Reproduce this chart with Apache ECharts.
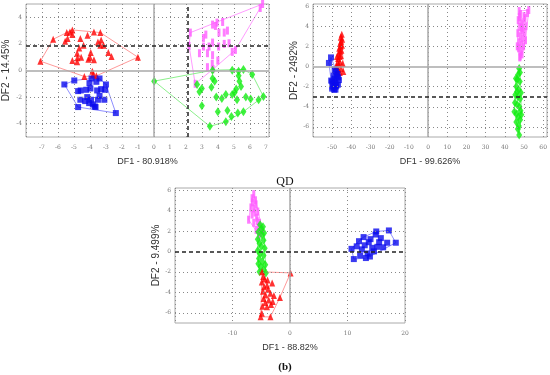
<!DOCTYPE html>
<html><head><meta charset="utf-8">
<script src="https://cdn.jsdelivr.net/npm/echarts@6/dist/echarts.min.js"></script>
<style>html,body{margin:0;padding:0;background:#fff}#c{width:550px;height:375px}</style>
</head><body><div id="c"></div>
<script>
// ---------- Plot 1 (top-left) ----------
const p1Red = [[-7.1,0.7],[-6.3,2.35],[-5.55,2.2],[-5.45,2.85],[-5.25,2.9],[-5.1,3.05],[-5.1,2.7],[-5.4,2.4],[-4.6,2.4],[-4.67,1.7],[-4.4,1.9],[-4.15,2.65],[-3.75,2.9],[-3.35,2.85],[-3.5,2.15],[-3.35,1.9],[-3.15,1.9],[-3.3,2.3],[-2.85,1.35],[-2.65,1.05],[-1.0,1.0],[-5.1,0.75],[-4.8,0.65],[-4.78,0.95],[-4.55,1.0],[-4.1,0.85],[-4.0,1.0],[-3.75,0.8],[-4.35,-0.45],[-3.85,-0.05],[-3.8,-0.3],[-3.6,-0.4],[-4.8,1.3],[-3.95,1.35]];
const p1Blue = [[-5.6,-1.05],[-4.98,-0.75],[-4.74,-1.55],[-4.58,-1.5],[-4.74,-2.75],[-4.6,-2.2],[-4.23,-1.45],[-4.17,-2.0],[-4.03,-0.95],[-3.97,-1.35],[-3.93,-2.2],[-3.82,-2.55],[-3.7,-2.7],[-3.9,-0.6],[-3.6,-0.85],[-3.55,-1.5],[-3.4,-1.9],[-3.5,-2.2],[-3.4,-0.6],[-3.1,-2.2],[-3.0,-1.05],[-3.05,-1.45],[-2.38,-3.2],[-4.3,-2.3],[-4.05,-2.45],[-3.65,-2.75],[-3.3,-1.4]];
const p1Green = [[0.02,-0.8],[3.67,0.02],[4.9,0.02],[5.3,-0.05],[5.6,0.08],[6.15,-0.3],[6.85,-1.95],[6.55,-2.2],[6.05,-2.15],[5.75,-2.0],[5.3,-0.4],[5.35,-0.8],[5.45,-1.2],[5.15,-1.4],[5.05,-1.65],[4.9,-1.8],[3.67,-0.6],[3.8,-0.8],[3.6,-1.25],[3.0,-1.35],[2.85,-1.6],[2.7,-1.05],[3.9,-2.0],[4.25,-2.1],[4.5,-1.8],[3.0,-2.65],[4.0,-3.1],[4.6,-3.0],[4.85,-3.45],[4.5,-3.85],[3.5,-4.2],[5.25,-3.2],[5.6,-3.1],[5.2,-2.2]];
const p1Magenta = [[6.8,5.0],[6.65,4.7],[2.28,2.85],[2.2,1.85],[2.58,-1.0],[3.67,3.45],[3.85,3.35],[3.95,3.6],[4.3,3.65],[4.07,2.85],[4.4,2.85],[4.6,3.0],[3.1,2.45],[3.25,2.7],[3.1,1.8],[3.45,1.8],[3.67,2.1],[4.05,1.8],[4.4,2.0],[4.7,2.05],[2.85,1.3],[3.35,1.3],[3.67,1.15],[4.9,1.4],[4.0,0.75],[3.65,0.5],[5.1,1.55],[3.35,0.25],[3.7,0.1]];
// ---------- Plot 2 (top-right) ----------
const p2Red = [[-47.3,-0.5],[-46.8,-0.3],[-47.8,0.0],[-46.5,0.2],[-47.2,0.4],[-46.0,0.5],[-46.9,0.8],[-46.2,1.0],[-45.5,1.1],[-46.6,1.3],[-45.9,1.5],[-45.2,1.6],[-46.3,1.8],[-45.6,2.0],[-44.9,2.1],[-45.8,2.3],[-45.3,2.5],[-44.8,2.7],[-45.5,2.9],[-45.0,3.2],[-44.5,0.3],[-44.2,-0.5],[-45.4,-0.2],[-47.5,1.0],[-46.0,-0.6]];
const p2Blue = [[-51.7,0.35],[-50.6,0.9],[-50.0,-1.5],[-50.0,-2.2],[-48.2,-2.0],[-46.5,-1.35],[-47.3,-0.75],[-49.0,-2.3],[-49.5,-1.7],[-48.8,-1.2],[-48.0,-0.5],[-47.6,-1.0],[-48.5,-1.6],[-49.2,-0.9],[-47.0,-1.8],[-50.5,-1.4],[-48.7,-0.3],[-47.8,-1.9],[-49.8,-2.0],[-48.3,-2.3],[-46.9,-1.1]];
const p2Green = [[47.5,-0.2],[47.0,-0.8],[46.5,-1.3],[47.8,-1.5],[46.0,-2.0],[47.2,-2.3],[45.5,-2.8],[46.8,-3.0],[48.0,-3.2],[45.3,-3.6],[46.5,-3.8],[47.6,-4.0],[48.2,-4.4],[45.0,-4.5],[46.2,-4.7],[47.0,-5.0],[48.0,-5.3],[46.0,-5.5],[47.3,-5.9],[48.4,-2.6],[45.8,-1.2],[47.5,-6.8],[46.8,-6.2],[47.9,-0.6],[46.4,-2.5],[48.6,-4.8]];
const p2Magenta = [[47.5,5.5],[48.2,5.2],[52.5,5.6],[51.8,5.3],[50.5,4.8],[47.0,4.6],[48.5,4.4],[49.5,4.2],[51.0,4.0],[47.8,3.9],[49.0,3.6],[50.2,3.4],[46.8,3.3],[48.0,3.0],[49.3,2.8],[50.8,2.6],[47.4,2.4],[48.6,2.2],[49.8,2.0],[47.2,1.8],[48.4,1.5],[49.0,1.2],[47.8,0.9],[48.8,3.8],[47.6,4.9],[50.0,5.0],[46.5,2.0],[48.0,1.0]];
// ---------- Plot 3 (bottom, QD) ----------
const p3Red = [[-4.85,-2.0],[-4.65,-2.45],[-4.4,-2.7],[-4.9,-3.0],[-4.5,-3.45],[-4.0,-3.3],[-3.1,-3.1],[-4.25,-4.25],[-3.4,-4.1],[-3.7,-4.75],[-3.0,-4.9],[-4.8,-5.35],[-4.9,-6.05],[-5.1,-6.4],[-3.4,-6.4],[-1.75,-4.5],[0.1,-2.1],[-4.7,-3.9],[-3.8,-3.7],[-4.3,-5.0],[-3.3,-5.2],[-2.8,-4.3],[-4.6,-4.6],[-3.9,-2.8],[-4.0,-5.4]];
const p3Blue = [[10.7,0.25],[11.1,-0.75],[13.2,-0.65],[14.9,1.65],[15.0,1.95],[17.2,2.05],[18.4,0.85],[16.9,0.85],[12.0,1.0],[13.7,0.9],[14.3,0.35],[15.2,0.45],[12.5,0.2],[13.0,0.6],[14.0,1.2],[15.5,0.9],[13.5,-0.2],[12.2,-0.4],[14.6,0.0],[13.9,-0.5],[15.8,1.3],[12.8,1.4],[16.2,0.4],[11.6,0.5]];
const p3Green = [[-5.2,2.6],[-4.7,2.4],[-5.5,1.9],[-4.9,1.6],[-5.6,1.2],[-4.6,1.1],[-5.3,0.8],[-5.0,0.5],[-4.4,0.3],[-5.6,0.1],[-5.2,-0.2],[-4.6,-0.4],[-5.4,-0.7],[-4.8,-1.0],[-4.3,-1.3],[-5.1,-1.5],[-4.6,-1.8],[-5.3,-2.0],[-4.2,-2.1],[-5.0,2.2],[-5.5,-1.2],[-4.5,1.8]];
const p3Magenta = [[-6.3,5.6],[-6.6,5.2],[-6.0,5.0],[-5.9,4.6],[-6.8,4.3],[-6.3,4.2],[-6.1,3.8],[-6.6,3.6],[-7.2,3.1],[-5.8,3.3],[-5.7,2.95],[-5.3,2.8],[-5.5,2.4],[-4.8,2.1],[-5.1,1.8],[-6.3,2.8],[-5.9,2.1],[-5.4,1.6],[-6.5,4.8],[-5.6,3.9]];

const axisNames = {
  p1x: 'DF1 - 80.918%', p1y: 'DF2 - 14.45%',
  p2x: 'DF1 - 99.626%', p2y: 'DF2 - 2492%',
  p3x: 'DF1 - 88.82%',  p3y: 'DF2 - 9.499%'
};
const p1YTicks = [-4,-2,0,2,4];
const p2YTicks = [-6,-4,-2,0,2,4,6];
const p3YTicks = [-6,-4,-2,0,2,4,6];

function hull(pts) {
  const p = pts.slice().sort((a,b)=>a[0]-b[0]||a[1]-b[1]);
  const cross=(o,a,b)=>(a[0]-o[0])*(b[1]-o[1])-(a[1]-o[1])*(b[0]-o[0]);
  const lo=[],up=[];
  for(const q of p){while(lo.length>=2&&cross(lo[lo.length-2],lo[lo.length-1],q)<=0)lo.pop();lo.push(q);}
  for(let i=p.length-1;i>=0;i--){const q=p[i];while(up.length>=2&&cross(up[up.length-2],up[up.length-1],q)<=0)up.pop();up.push(q);}
  up.pop();lo.pop();
  const h=lo.concat(up); h.push(h[0]); return h;
}

const styles = {
  red:     {symbol:'triangle', size:[6,7], color:'#ff0000', line:'#ff9a9a'},
  blue:    {symbol:'rect', size:[6,6], color:'#0a0aee', line:'#8f8fff'},
  green:   {symbol:'diamond', size:[6,9], color:'#11ee11', line:'#8cf08c'},
  magenta: {symbol:'rect', size:[3,8], color:'#ff5cff', line:'#ff9cff'}
};

const series = [];
function addGroup(data, key, idx) {
  const s = styles[key];
  series.push({type:'line', xAxisIndex:idx, yAxisIndex:idx, data:hull(data), symbol:'none', silent:true,
    lineStyle:{color:s.line, width:1}, z:2, animation:false});
  series.push({type:'scatter', xAxisIndex:idx, yAxisIndex:idx, data:data, symbol:s.symbol, symbolSize:s.size,
    itemStyle:{color:s.color}, z:3, animation:false});
}

const zeroStyle = {color:'#a8a8a8', width:1.5, type:'solid'};
const dashStyle = {color:'#222', width:1.5, type:[4,3]};
const dotStyle = {color:'#888', width:1, type:[1,3]};
function refLines(idx, lines, yTicks) {
  const grid = yTicks.filter(v=>v!==0).map(v=>({yAxis:v, lineStyle:dotStyle}));
  series.push({type:'scatter', xAxisIndex:idx, yAxisIndex:idx, data:[], silent:true, animation:false, z:1,
    markLine:{silent:true, symbol:'none', label:{show:false}, animation:false, data: grid.concat(lines)}});
}
refLines(0, [{xAxis:0, lineStyle:zeroStyle},{yAxis:0, lineStyle:zeroStyle},{xAxis:2.1, lineStyle:dashStyle},{yAxis:1.85, lineStyle:dashStyle}], p1YTicks);
refLines(1, [{xAxis:0, lineStyle:zeroStyle},{yAxis:0, lineStyle:zeroStyle},{yAxis:-3, lineStyle:dashStyle}], p2YTicks);
refLines(2, [{xAxis:0, lineStyle:zeroStyle},{yAxis:0, lineStyle:dashStyle}], p3YTicks);

addGroup(p1Red,'red',0); addGroup(p1Blue,'blue',0); addGroup(p1Magenta,'magenta',0); addGroup(p1Green,'green',0);
addGroup(p2Red,'red',1); addGroup(p2Blue,'blue',1); addGroup(p2Magenta,'magenta',1); addGroup(p2Green,'green',1);
addGroup(p3Magenta,'magenta',2); addGroup(p3Green,'green',2); addGroup(p3Red,'red',2); addGroup(p3Blue,'blue',2);

const tickFont = {fontFamily:'DejaVu Serif', fontSize:6, color:'#777'};
function xAx(idx,min,max,interval,name){
  return {gridIndex:idx, type:'value', min, max, interval, name, nameLocation:'middle', nameGap:20,
    nameTextStyle:{fontFamily:'Liberation Sans', fontSize:9, color:'#333'},
    axisLine:{show:false}, axisTick:{show:false},
    axisLabel:Object.assign({margin:7, showMinLabel:false, showMaxLabel:(max%interval===0)}, tickFont),
    splitLine:{show:true, lineStyle:dotStyle}};
}
function yAx(idx,min,max,ticks,name,gap){
  return {gridIndex:idx, type:'value', min, max, name, nameLocation:'middle', nameGap:gap,
    nameTextStyle:{fontFamily:'Liberation Sans', fontSize:10, color:'#333'},
    axisLine:{show:false}, axisTick:{show:false, customValues:ticks},
    axisLabel:Object.assign({margin:4, customValues:ticks}, tickFont),
    splitLine:{show:false}};
}

const option = {
  animation:false,
  backgroundColor:'#fff',
  title:[
    {text:'QD', left:280, top:171, textAlign:'center', textStyle:{fontFamily:'Liberation Serif', fontSize:12, fontWeight:'normal', color:'#111'}},
    {text:'(b)', left:280, top:357, textAlign:'center', textStyle:{fontFamily:'Liberation Serif', fontSize:11, fontWeight:'bold', color:'#111'}}
  ],
  grid:[
    {left:23, top:4, width:246, height:133, show:true, borderColor:'#aaa', borderWidth:1, backgroundColor:'transparent'},
    {left:313, top:4, width:234, height:133, show:true, borderColor:'#aaa', borderWidth:1, backgroundColor:'transparent'},
    {left:175, top:188, width:230, height:135, show:true, borderColor:'#aaa', borderWidth:1, backgroundColor:'transparent'}
  ],
  xAxis:[xAx(0,-8,7.2,1,axisNames.p1x), xAx(1,-60,62,10,axisNames.p2x), xAx(2,-20,20,10,axisNames.p3x)],
  yAxis:[yAx(0,-5,5,p1YTicks,axisNames.p1y,15), yAx(1,-7,6.2,p2YTicks,axisNames.p2y,14), yAx(2,-7,6.2,p3YTicks,axisNames.p3y,14)],
  series
};
echarts.init(document.getElementById('c'), null, {renderer:'canvas'}).setOption(option);
</script></body></html>
